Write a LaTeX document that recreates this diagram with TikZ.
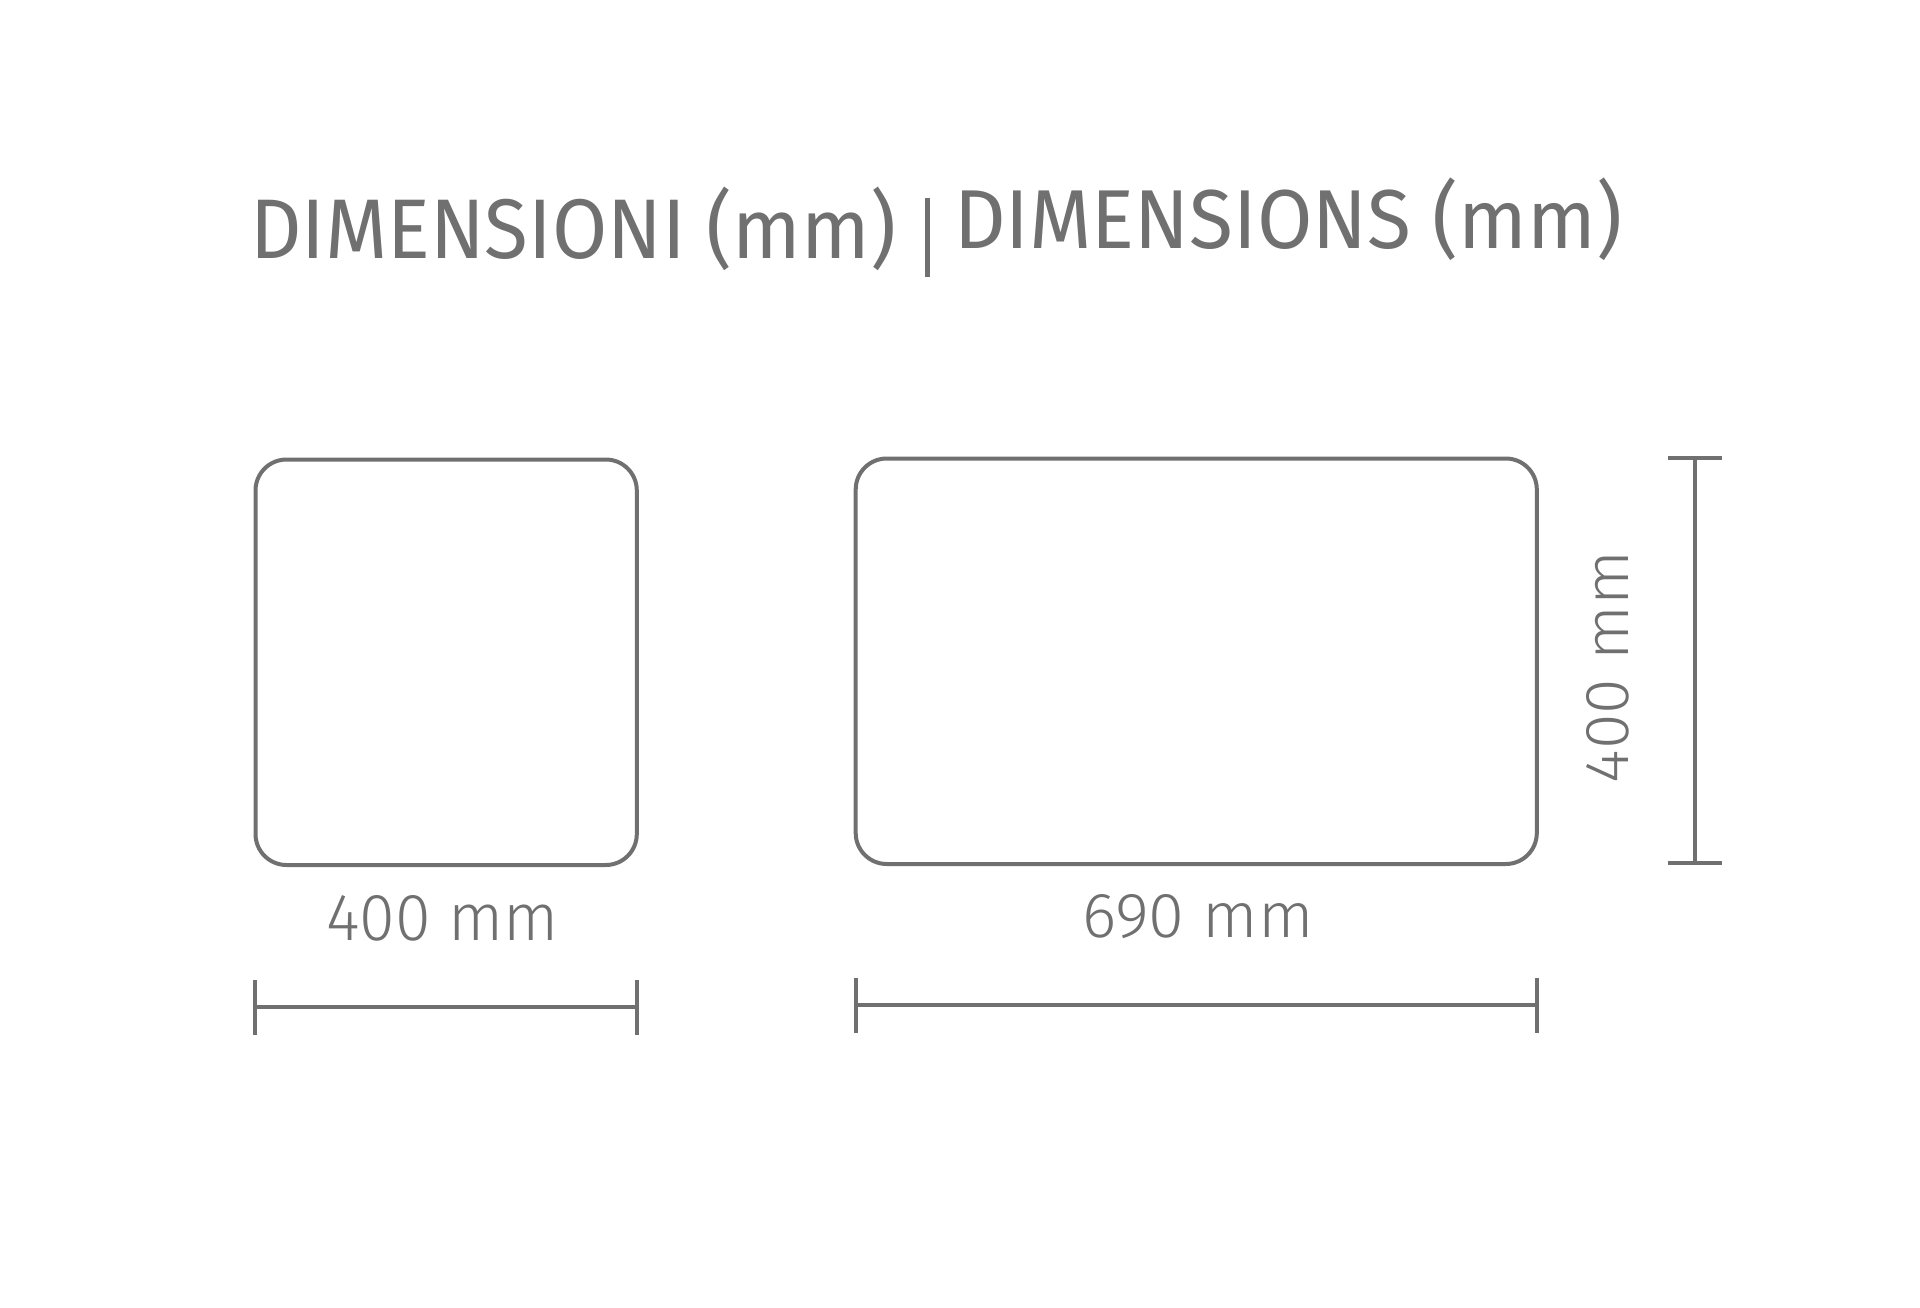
\documentclass[tikz,border=0pt]{standalone}
\usepackage{fontspec}
\setmainfont{Fira Sans}
\newfontfamily\lightfont{Fira Sans Light}
\usepackage{graphicx}
\definecolor{dimgray}{RGB}{112,112,112}
% width, height of reference glyph, reference glyph, text
\newcommand\fitbox[4]{\begingroup\sbox0{#4}\sbox2{#3}%
  \pgfmathsetmacro\fx{#1/\the\wd0}\pgfmathsetmacro\fy{#2/\the\ht2}%
  \scalebox{\fx}[\fy]{\usebox0}\endgroup}
\tikzset{
  outline/.style={draw=dimgray, line width=4pt, rounded corners=31pt},
  dimline/.style={draw=dimgray, line width=4pt},
  lbl/.style={inner sep=0pt, outer sep=0pt, text=dimgray, anchor=base west},
}
\begin{document}
\begin{tikzpicture}[x=1pt, y=-1pt]
\fill[white] (0,0) rectangle (1920,1308);
\useasboundingbox (0,0) rectangle (1920,1308);

% title
\node[lbl] (t1) at (250,258.3) {\fontsize{80}{96}\selectfont\fitbox{646}{58.3}{D}{DIMENSIONI (mm)}};
\node[lbl] (t2) at (954,248.3) {\fontsize{80}{96}\selectfont\fitbox{668}{57.6}{D}{DIMENSIONS (mm)}};
\coordinate (bt) at (927.3,198);
\coordinate (bb) at (927.3,276.7);
\draw[dimgray, line width=5pt] (bt) -- (bb);

% shapes
\coordinate (s1a) at (255.5,459.5);
\coordinate (s1b) at (636.8,865);
\coordinate (s2a) at (855.7,458.5);
\coordinate (s2b) at (1536.8,864);
\draw[outline] (s1a) rectangle (s1b);
\draw[outline] (s2a) rectangle (s2b);

% horizontal dimension, left
\coordinate (d1l) at (255.3,1006.5);
\coordinate (d1r) at (636.8,1006.5);
\draw[dimline] (d1l) -- (d1r);
\draw[dimline] ([yshift=-28.3pt]d1l) -- ([yshift=26.5pt]d1l);
\draw[dimline] ([yshift=-28.3pt]d1r) -- ([yshift=26.5pt]d1r);
% horizontal dimension, right
\coordinate (d2l) at (855.7,1004.6);
\coordinate (d2r) at (1536.8,1004.6);
\draw[dimline] (d2l) -- (d2r);
\draw[dimline] ([yshift=-28pt]d2l) -- ([yshift=26.5pt]d2l);
\draw[dimline] ([yshift=-28pt]d2r) -- ([yshift=26.5pt]d2r);
% vertical dimension
\coordinate (vt) at (1695,458.3);
\coordinate (vb) at (1695,863.3);
\draw[dimline] (vt) -- (vb);
\draw[dimline] ([xshift=-27.3pt]vt) -- ([xshift=26.7pt]vt);
\draw[dimline] ([xshift=-27.3pt]vb) -- ([xshift=26.7pt]vb);

% labels
\node[lbl] (l1) at (326,940) {\lightfont\fontsize{64}{76}\selectfont\fitbox{233}{45}{4}{400 mm}};
\node[lbl] (l2) at (1082,937.3) {\lightfont\fontsize{64}{76}\selectfont\fitbox{232}{43}{4}{690 mm}};
\node[lbl, rotate=90] (l3) at (1628.3,783) {\lightfont\fontsize{64}{76}\selectfont\fitbox{232}{42}{4}{400 mm}};
\end{tikzpicture}
\end{document}
